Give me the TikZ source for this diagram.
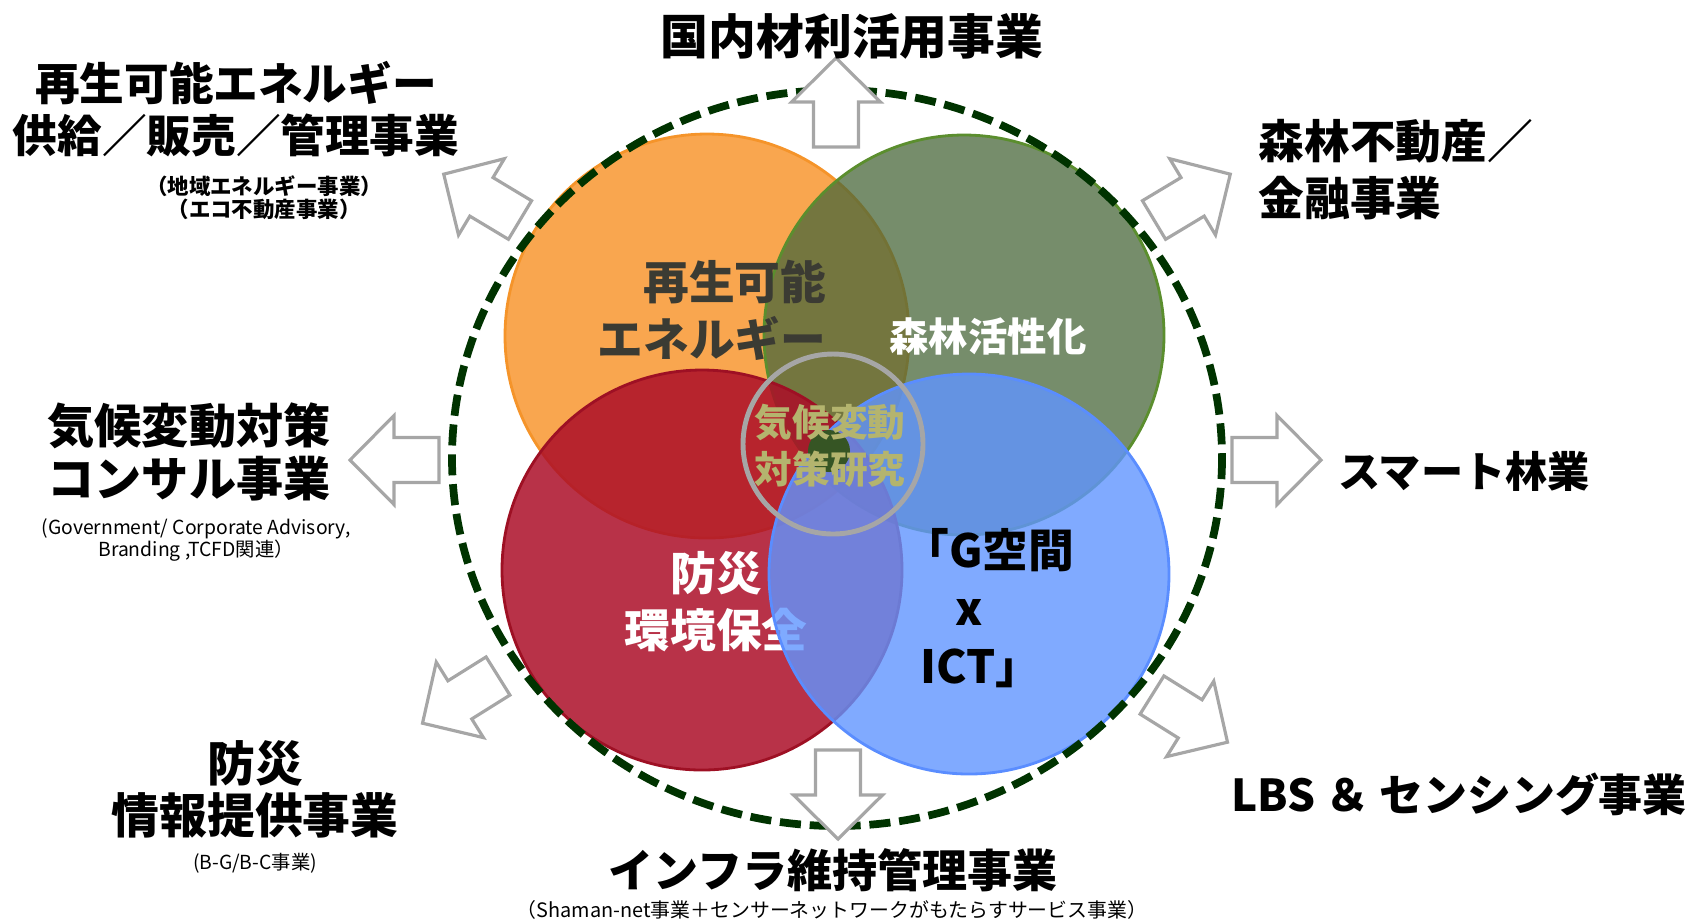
\documentclass[tikz,border=0pt]{standalone}
\usepackage{fontspec}
\setmainfont{Noto Sans CJK JP}
\usetikzlibrary{positioning}
\definecolor{ringgreen}{HTML}{003300}
\definecolor{orangefill}{HTML}{F9A64F}
\definecolor{orangeline}{HTML}{F5942A}
\definecolor{forestfill}{HTML}{48673A}
\definecolor{forestline}{HTML}{5B8E2E}
\definecolor{redfill}{HTML}{AC0E28}
\definecolor{redline}{HTML}{9E1024}
\definecolor{bluefill}{HTML}{6095FF}
\definecolor{blueline}{HTML}{5A8DFF}
\definecolor{coregreen}{HTML}{365524}
\definecolor{shadegray}{HTML}{A6A6A6}
\definecolor{khaki}{HTML}{B4B46E}
\definecolor{inkgray}{HTML}{3B3B33}

\begin{document}
\begin{tikzpicture}[x=0.01cm, y=-0.01cm,
    bubble/.style={line width=0.8pt},
    ring/.style={draw=ringgreen, line width=2.2pt, dash pattern=on 6pt off 2.5pt},
    bigtext/.style={font=\bfseries\fontsize{13.4}{15}\selectfont, align=center, inner sep=0pt},
    midtext/.style={font=\bfseries\fontsize{13}{16.2}\selectfont, align=center, inner sep=0pt},
    subtext/.style={font=\bfseries\fontsize{6.1}{6.6}\selectfont, align=center, inner sep=0pt},
    thintext/.style={font=\fontsize{5.5}{6.5}\selectfont, align=center, inner sep=0pt},
    arrowline/.style={draw=shadegray, fill=white, line width=0.9pt, line join=miter},
    pics/blockarrow/.style={code={
        \draw[arrowline] (0,-22.5) -- (45,-22.5) -- (45,-44.5) -- (89,0)
            -- (45,44.5) -- (45,22.5) -- (0,22.5) -- cycle;
    }}
]
    \useasboundingbox (0,0) rectangle (1698,920);

    % Bubbles
    \fill[orangefill] (707,336) circle [radius=202];
    \draw[bubble, orangeline] (707,336) circle [radius=202];
    \fill[forestfill, opacity=0.75] (964,335) circle [radius=200];
    \draw[bubble, forestline] (964,335) circle [radius=200];
    \node[midtext, text=inkgray, align=right, anchor=east] (energy) at (827,310) {再生可能\\エネルギー};
    \node[midtext, text=white, font=\bfseries\fontsize{11.2}{13}\selectfont] (forest) at (988,336) {森林活性化};
    \fill[redfill, opacity=0.85] (702,570) circle [radius=200];
    \draw[bubble, redline] (702,570) circle [radius=200];
    \node[midtext, text=white] (disaster) at (716,602) {防災\\環境保全};
    \fill[bluefill, opacity=0.8] (969,574) circle [radius=200];
    \draw[bubble, blueline] (969,574) circle [radius=200];
    \node[midtext] (geo) at (989,550) {「G空間};
    \node[midtext] (times) at (969,612) {x};
    \node[midtext] (ict) at (981,668) {ICT」};

    % Core
    \fill[coregreen] (829,451) circle [radius=21];
    \draw[shadegray, line width=1.4pt] (833,444) circle [radius=90];
    \node[midtext, text=khaki, font=\bfseries\fontsize{10.7}{13.3}\selectfont] (climate) at (830,446) {気候変動\\対策研究};

    % Outer ring
    \draw[ring] (837,458) ellipse [x radius=385, y radius=368];

    % Arrows
    \pic[rotate=90] at (836,147) {blockarrow};
    \pic[rotate=31] at (1154,220) {blockarrow};
    \pic at (1232,460) {blockarrow};
    \pic[rotate=-32] at (1152,695) {blockarrow};
    \pic[rotate=-90] at (838,750) {blockarrow};
    \pic[rotate=212] at (498,676) {blockarrow};
    \pic[rotate=180] at (439,460) {blockarrow};
    \pic[rotate=149] at (520,220) {blockarrow};

    % Business labels
    \node[bigtext, font=\bfseries\fontsize{13.6}{15}\selectfont] (domestic) at (852,36) {国内材利活用事業};
    \node[bigtext, font=\bfseries\fontsize{12.7}{14.8}\selectfont] (supply) at (236,109) {再生可能エネルギー\\供給／販売／管理事業};
    \node[subtext, below=5pt of supply, xshift=8] (supplysub) {（地域エネルギー事業）\\（エコ不動産事業）};
    \node[bigtext] (consult) at (189,452) {気候変動対策\\コンサル事業};
    \node[thintext, below=4.5pt of consult, xshift=2] (consultsub) {(Government/ Corporate Advisory,\\Branding ,TCFD関連）};
    \node[bigtext, font=\bfseries\fontsize{13.6}{14.8}\selectfont] (info) at (255,789) {防災\\情報提供事業};
    \node[thintext, below=4pt of info] (infosub) {(B-G/B-C事業)};
    \node[bigtext, font=\bfseries\fontsize{12.8}{15}\selectfont] (infra) at (833,870) {インフラ維持管理事業};
    \node[thintext, font=\fontsize{5.65}{6.5}\selectfont] (infrasub) at (832,910) {（Shaman-net事業＋センサーネットワークがもたらすサービス事業）};
    \node[bigtext, font=\bfseries\fontsize{13}{16.2}\selectfont, align=left, anchor=west] (realestate) at (1258,170) {森林不動産／\\金融事業};
    \node[bigtext, font=\bfseries\fontsize{12}{15}\selectfont] (smart) at (1464,471) {スマート林業};
    \node[bigtext, font=\bfseries\fontsize{12.5}{15}\selectfont] (lbs) at (1459,794) {LBS\ ＆\ センシング事業};
\end{tikzpicture}
\end{document}
